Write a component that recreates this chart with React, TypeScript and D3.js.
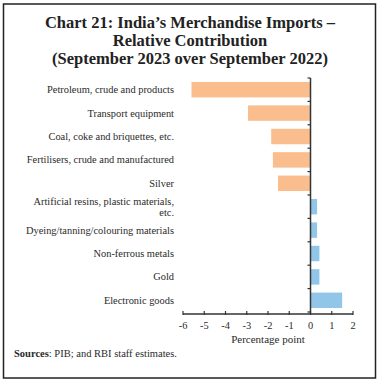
import React from "react";
import * as d3 from "d3";

const categories = [
  "Petroleum, crude and products",
  "Transport equipment",
  "Coal, coke and briquettes, etc.",
  "Fertilisers, crude and manufactured",
  "Silver",
  "Artificial resins, plastic materials, etc.",
  "Dyeing/tanning/colouring materials",
  "Non-ferrous metals",
  "Gold",
  "Electronic goods",
];
const values = [-5.6, -2.94, -1.85, -1.77, -1.53, 0.31, 0.31, 0.42, 0.42, 1.49];
const xTicks = [-6, -5, -4, -3, -2, -1, 0, 1, 2];

const W = 380;
const H = 382;
const font = "'Liberation Serif', 'Times New Roman', serif";

export default function App() {
  const x = d3.scaleLinear().domain([-6, 2]).range([183, 353]);
  const y = d3.scaleBand<string>().domain(categories).range([78, 312]).paddingInner(0.34).paddingOuter(0.17);
  const band = y.step();
  const axisY = 314;
  const labelLines = (c: string) =>
    c === "Artificial resins, plastic materials, etc." ? ["Artificial resins, plastic materials,", "etc."] : [c];

  return (
    <svg width={W} height={H} style={{ position: "absolute", left: 0, top: 0 }}>
      <rect x={0} y={0} width={W} height={H} fill="#fff" />
      <rect x={3.5} y={4} width={372} height={374} fill="none" stroke="#222" strokeWidth={1.5} />
      <g fontFamily={font} fontWeight="bold" fontSize={16.5} fill="#222" textAnchor="middle">
        <text x={190} y={28}>Chart 21: India’s Merchandise Imports –</text>
        <text x={190} y={46}>Relative Contribution</text>
        <text x={190} y={64}>(September 2023 over September 2022)</text>
      </g>
      {categories.map((c, i) => {
        const v = values[i];
        const yy = y(c)!;
        return (
          <rect
            key={c}
            x={x(Math.min(0, v))}
            y={yy}
            width={Math.abs(x(v) - x(0))}
            height={y.bandwidth()}
            fill={v < 0 ? "#FABD8D" : "#92C6E8"}
          />
        );
      })}
      {categories.map((c) => {
        const lines = labelLines(c);
        const cy = y(c)! + y.bandwidth() / 2;
        return (
          <text key={c} fontFamily={font} fontSize={10.4} fill="#2a2a2a" textAnchor="end">
            {lines.map((l, j) => (
              <tspan key={j} x={174} y={cy + 3.5 + (j - (lines.length - 1) / 2) * 11}>
                {l}
              </tspan>
            ))}
          </text>
        );
      })}
      {/* vertical zero axis */}
      <line x1={x(0)} x2={x(0)} y1={78} y2={axisY} stroke="#333" strokeWidth={1.5} />
      {d3.range(categories.length + 1).map((i) => (
        <line key={i} x1={x(0)} x2={x(0) - 3} y1={78 + i * band} y2={78 + i * band} stroke="#333" strokeWidth={1.2} />
      ))}
      {/* x axis */}
      <line x1={x(-6)} x2={x(2)} y1={axisY} y2={axisY} stroke="#333" strokeWidth={1.5} />
      {xTicks.map((t) => (
        <g key={t}>
          <line x1={x(t)} x2={x(t)} y1={axisY - 3} y2={axisY + 1} stroke="#333" strokeWidth={1.2} />
          <text x={x(t)} y={axisY + 15} fontFamily={font} fontSize={10.4} fill="#2a2a2a" textAnchor="middle">
            {t}
          </text>
        </g>
      ))}
      <text x={x(-2)} y={axisY + 29} fontFamily={font} fontSize={11} fill="#2a2a2a" textAnchor="middle">
        Percentage point
      </text>
      <text x={14} y={357} fontFamily={font} fontSize={10.5} fill="#2a2a2a">
        <tspan fontWeight="bold">Sources</tspan>: PIB; and RBI staff estimates.
      </text>
    </svg>
  );
}
